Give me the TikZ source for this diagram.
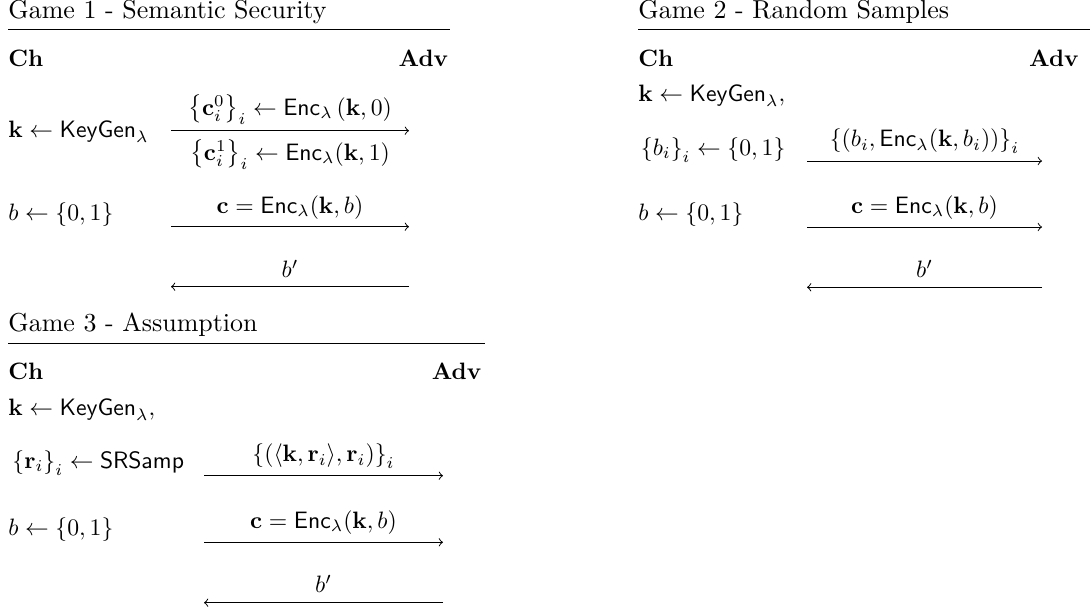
\documentclass[tikz,border=0pt]{standalone}
\usepackage{amsmath}
\usepackage{amssymb}

\begin{document}
\begin{tikzpicture}[
  x=0.422pt, y=-0.422pt,
  every node/.style={inner sep=0pt},
  title/.style={anchor=base west, font=\fontsize{10.95}{13.6}\selectfont},
  party/.style={anchor=base west, font=\bfseries},
  cmd/.style={anchor=base west},
  lbl/.style={anchor=base},
  msg/.style={->}
]
\useasboundingbox (0,0) rectangle (1090,613);

% =======================
% Game 1: Semantic Security
% =======================
\node[title] (titleA) at (8,18) {Game 1 - Semantic Security};
\coordinate (A0) at (8,29.3);
\coordinate (A9) at (449.5,29.3);
\draw (A0)--(A9);

\node[party] (chA) at (8,66) {Ch};
\node[party, anchor=base east] (advA) at (448.5,66) {Adv};

\node[cmd] (keyA) at (8,137) {$\mathbf{k} \leftarrow \mathsf{KeyGen}_\lambda$};
\node[cmd] (bitA) at (8,220.7) {$b \leftarrow \{0,1\}$};

% messages
\coordinate (A1s) at (171,130.7);  \coordinate (A1e) at (409,130.7);
\coordinate (A2s) at (171,226.7);  \coordinate (A2e) at (409,226.7);
\coordinate (A3s) at (409,286.7);  \coordinate (A3e) at (171,286.7);
\draw[msg] (A1s)--(A1e);
\draw[msg] (A2s)--(A2e);
\draw[msg] (A3s)--(A3e);

\node[lbl] (mA1) at (290,115) {$\left\{\mathbf{c}_i^0\right\}_i \leftarrow \mathsf{Enc}_\lambda\left(\mathbf{k},0\right)$};
\node[lbl] (mA1b) at (290,160) {$\left\{\mathbf{c}_i^1\right\}_i \leftarrow \mathsf{Enc}_\lambda(\mathbf{k},1)$};
\node[lbl] (mA2) at (290,213.3) {$\mathbf{c} = \mathsf{Enc}_\lambda(\mathbf{k},b)$};
\node[lbl] (mA3) at (290,277.7) {$b'$};

% =======================
% Game 2: Random Samples
% =======================
\node[title] (titleB) at (638,18) {Game 2 - Random Samples};
\coordinate (B0) at (638,29.3);
\coordinate (B9) at (1090,29.3);
\draw (B0)--(B9);

\node[party] (chB) at (638,66) {Ch};
\node[party, anchor=base east] (advB) at (1079,66) {Adv};

\node[cmd] (keyB) at (638,101) {$\mathbf{k} \leftarrow \mathsf{KeyGen}_\lambda,$};
\node[cmd] (sampB) at (640.5,155) {$\left\{b_i\right\}_i \leftarrow \{0,1\}$};
\node[cmd] (bitB) at (638,220) {$b \leftarrow \{0,1\}$};

% messages
\coordinate (B1s) at (807,161);    \coordinate (B1e) at (1042,161);
\coordinate (B2s) at (807,227);    \coordinate (B2e) at (1042,227);
\coordinate (B3s) at (1042,287.3); \coordinate (B3e) at (807,287.3);
\draw[msg] (B1s)--(B1e);
\draw[msg] (B2s)--(B2e);
\draw[msg] (B3s)--(B3e);

\node[lbl] (mB1) at (924.5,146.7) {$\left\{(b_i, \mathsf{Enc}_\lambda(\mathbf{k},b_i))\right\}_i$};
\node[lbl] (mB2) at (924.5,213.3) {$\mathbf{c} = \mathsf{Enc}_\lambda(\mathbf{k},b)$};
\node[lbl] (mB3) at (924.5,277.7) {$b'$};

% =======================
% Game 3: Assumption
% =======================
\node[title] (titleC) at (8,331.7) {Game 3 - Assumption};
\coordinate (C0) at (8,343.3);
\coordinate (C9) at (485,343.3);
\draw (C0)--(C9);

\node[party] (chC) at (8,379.3) {Ch};
\node[party, anchor=base east] (advC) at (481.7,379.3) {Adv};

\node[cmd] (keyC) at (8,415) {$\mathbf{k} \leftarrow \mathsf{KeyGen}_\lambda,$};
\node[cmd] (sampC) at (12,468.3) {$\left\{\mathbf{r}_i\right\}_i \leftarrow \mathsf{SRSamp}$};
\node[cmd] (bitC) at (8,535) {$b \leftarrow \{0,1\}$};

% messages
\coordinate (C1s) at (204,475.7);  \coordinate (C1e) at (443,475.7);
\coordinate (C2s) at (204,542.3);  \coordinate (C2e) at (443,542.3);
\coordinate (C3s) at (443,602.7);  \coordinate (C3e) at (204,602.7);
\draw[msg] (C1s)--(C1e);
\draw[msg] (C2s)--(C2e);
\draw[msg] (C3s)--(C3e);

\node[lbl] (mC1) at (323.5,461.7) {$\left\{(\langle\mathbf{k},\mathbf{r}_i\rangle,\mathbf{r}_i)\right\}_i$};
\node[lbl] (mC2) at (323.5,528.3) {$\mathbf{c} = \mathsf{Enc}_\lambda(\mathbf{k},b)$};
\node[lbl] (mC3) at (323.5,592.7) {$b'$};

\end{tikzpicture}
\end{document}
